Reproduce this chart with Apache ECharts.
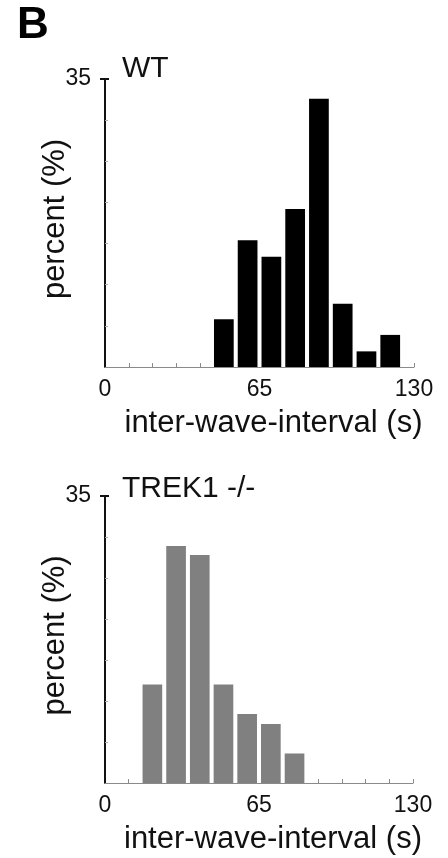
<!DOCTYPE html>
<html>
<head>
<meta charset="utf-8">
<script src="https://cdn.jsdelivr.net/npm/echarts@6/dist/echarts.min.js"></script>
<style>
html,body{margin:0;padding:0;background:#fff;}
#chart{width:448px;height:858px;}
</style>
</head>
<body>
<div id="chart"></div>
<script>
// ---- data ----
const panelLetter = 'B';
const wtTitle = 'WT';
const koTitle = 'TREK1 -/-';
const xAxisName = 'inter-wave-interval (s)';
const yAxisName = 'percent (%)';
const xTickLabels = [0, 65, 130];
const xTickMarks = [10, 20, 30, 40, 50, 60, 70, 80, 90, 100, 110, 120, 130];
const yTickLabels = [35];
const yMinorTicks = [5, 10, 15, 20, 25, 30];
const wtBins = [50, 60, 70, 80, 90, 100, 110, 120];
const wtPercent = [5.8, 15.4, 13.4, 19.2, 32.6, 7.7, 1.9, 3.9];
const koBins = [20, 30, 40, 50, 60, 70, 80];
const koPercent = [12.0, 28.9, 27.8, 12.0, 8.4, 7.2, 3.6];

const FONT = 'Liberation Sans, Arial, sans-serif';
const HALF = 4.15; // half bar width in x units

function barRender(color) {
  return function (params, api) {
    const x = api.value(0), y = api.value(1);
    const p0 = api.coord([x - HALF, y]);
    const p1 = api.coord([x + HALF, 0]);
    return {
      type: 'rect',
      shape: { x: p0[0], y: p0[1], width: p1[0] - p0[0], height: p1[1] - p0[1] },
      style: { fill: color }
    };
  };
}

function xAx(gi) {
  return {
    type: 'value', gridIndex: gi, min: 0, max: 130,
    axisLine: { lineStyle: { color: '#8a8a8a', width: 1 } },
    axisTick: { show: true, inside: true, length: 4, lineStyle: { color: '#8a8a8a', width: 1 }, customValues: xTickMarks },
    axisLabel: { customValues: xTickLabels, fontSize: 23, color: '#111', fontFamily: FONT, margin: 11 },
    splitLine: { show: false },
    name: xAxisName, nameLocation: 'middle', nameGap: 41, nameMoveOverlap: false,
    nameTextStyle: { fontSize: 31, color: '#111', fontFamily: FONT, padding: [0, 0, 0, 28] }
  };
}
function yMain(gi) {
  return {
    type: 'value', gridIndex: gi, min: 0, max: 35, position: 'left',
    axisLine: { show: true, lineStyle: { color: '#111', width: 2 } },
    axisTick: { show: true, length: 5, lineStyle: { color: '#111', width: 2 }, customValues: yTickLabels },
    axisLabel: { customValues: yTickLabels, fontSize: 23, color: '#111', fontFamily: FONT, margin: 14 },
    splitLine: { show: false },
    name: yAxisName, nameLocation: 'middle', nameRotate: 90, nameGap: 34, nameMoveOverlap: false,
    nameTextStyle: { fontSize: 31, color: '#111', fontFamily: FONT, padding: [0, 0, 0, 8] }
  };
}
function yMinor(gi) {
  return {
    type: 'value', gridIndex: gi, min: 0, max: 35, position: 'left',
    axisLine: { show: false },
    axisTick: { show: true, inside: true, length: 3, lineStyle: { color: '#aaa', width: 1 }, customValues: yMinorTicks },
    axisLabel: { show: false }, splitLine: { show: false }
  };
}
function yTop(gi) {
  return {
    type: 'value', gridIndex: gi, min: 0, max: 35, position: 'left',
    axisLine: { show: false },
    axisTick: { show: true, inside: true, length: 4, lineStyle: { color: '#111', width: 2 }, customValues: yTickLabels },
    axisLabel: { show: false }, splitLine: { show: false }
  };
}

const chart = echarts.init(document.getElementById('chart'), null, { renderer: 'canvas' });
chart.setOption({
  animation: false,
  backgroundColor: '#fff',
  grid: [
    { left: 105, top: 79, width: 309, height: 288 },
    { left: 105, top: 496, width: 308, height: 287 }
  ],
  xAxis: [xAx(0), xAx(1)],
  yAxis: [yMain(0), yMinor(0), yTop(0), yMain(1), yMinor(1), yTop(1)],
  graphic: [
    { type: 'text', left: 17, top: 4, style: { text: panelLetter, font: 'bold 44px ' + FONT, fill: '#000' } },
    { type: 'text', left: 122, top: 54, style: { text: wtTitle, font: '30px ' + FONT, fill: '#111' } },
    { type: 'text', left: 122, top: 474, style: { text: koTitle, font: '30px ' + FONT, fill: '#111' } }
  ],
  series: [
    { type: 'custom', xAxisIndex: 0, yAxisIndex: 0, renderItem: barRender('#000'), clip: false,
      data: wtBins.map((b, i) => [b, wtPercent[i]]) },
    { type: 'custom', xAxisIndex: 1, yAxisIndex: 3, renderItem: barRender('#808080'), clip: false,
      data: koBins.map((b, i) => [b, koPercent[i]]) }
  ]
});
</script>
</body>
</html>
